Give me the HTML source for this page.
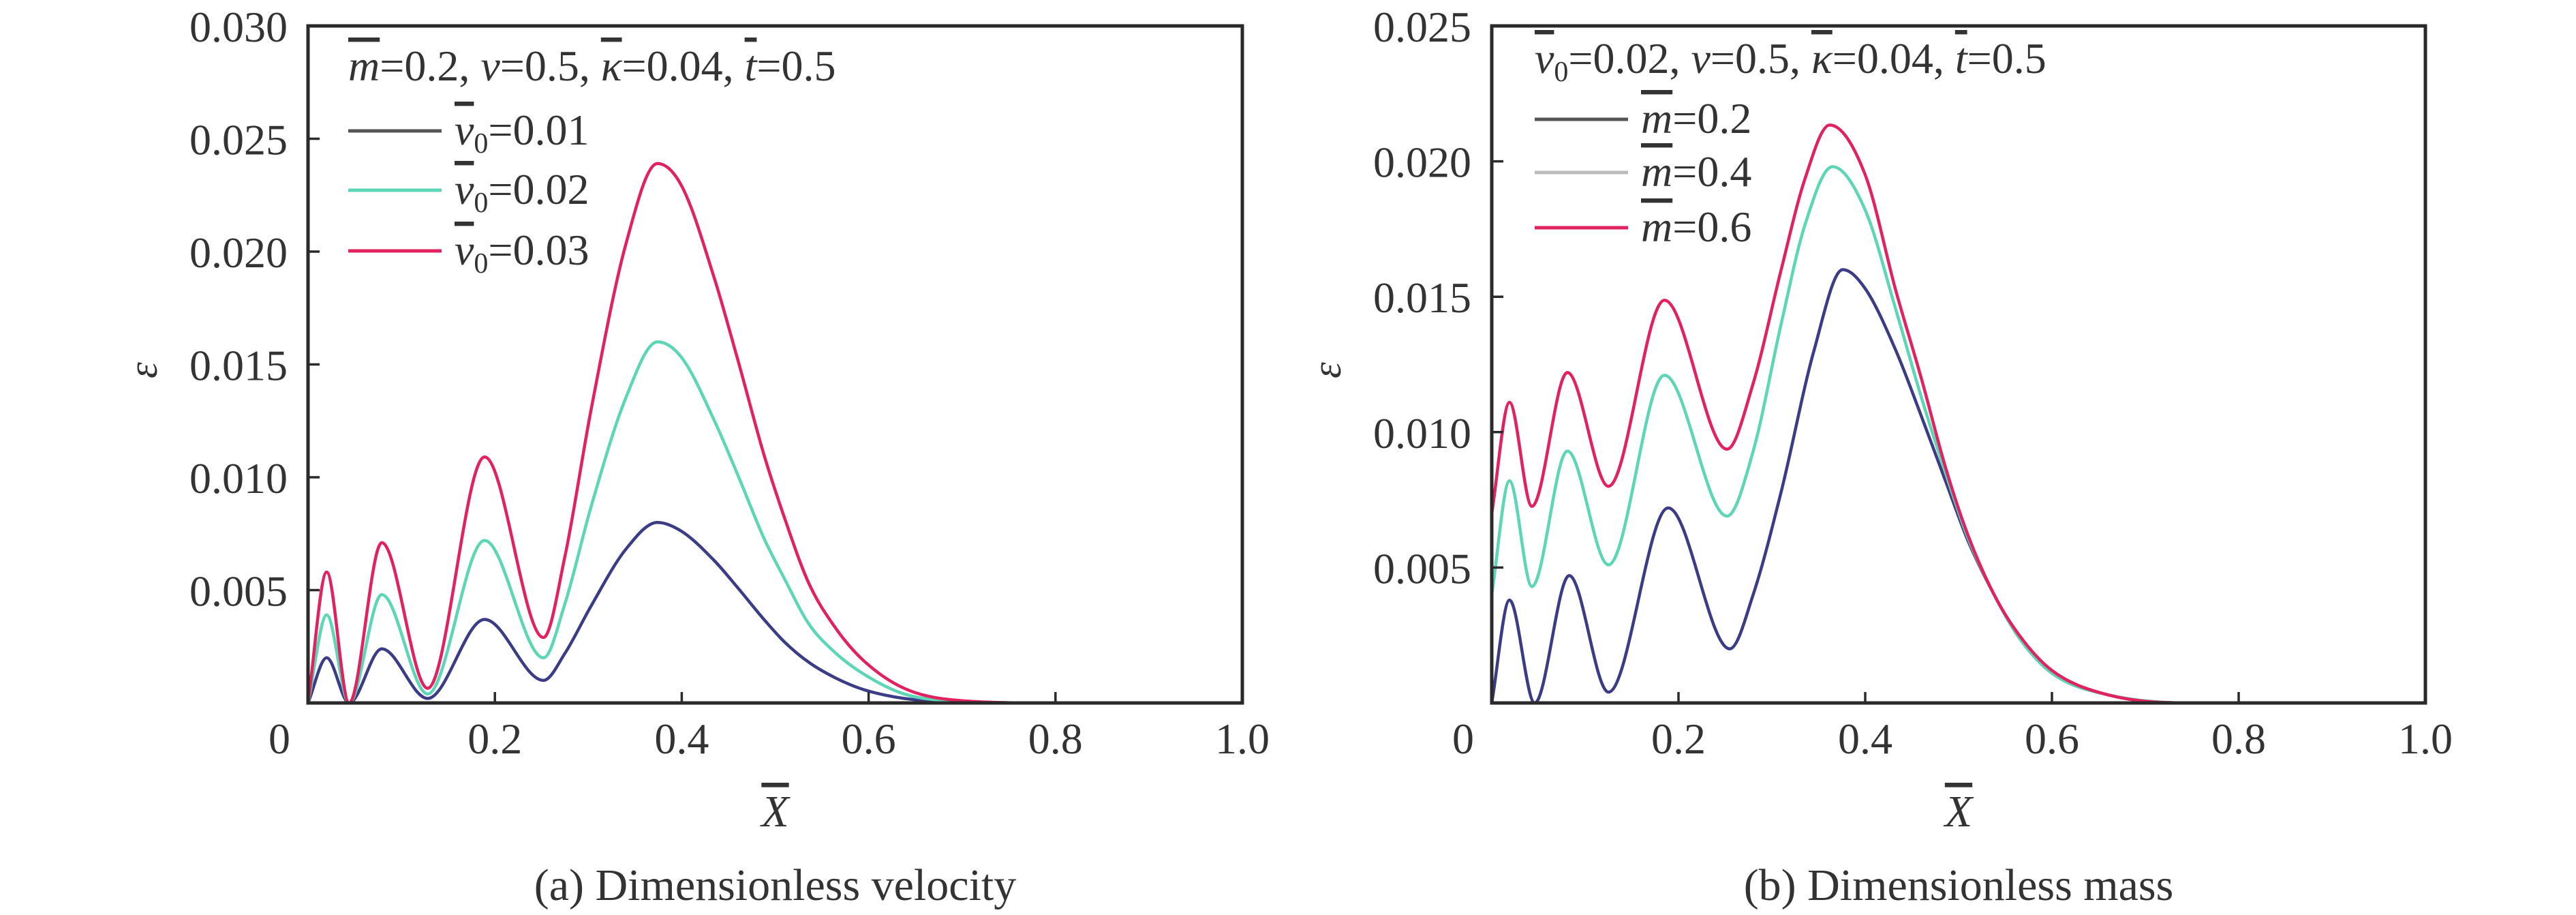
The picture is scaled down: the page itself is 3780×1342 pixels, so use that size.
<!DOCTYPE html>
<html><head><meta charset="utf-8"><style>
html,body{margin:0;padding:0;background:#fff;}
svg{display:block;font-family:"Liberation Serif",serif;}
</style></head><body>
<svg id="chart" width="3780" height="1342" viewBox="0 0 3780 1342" xmlns="http://www.w3.org/2000/svg">
<rect width="3780" height="1342" fill="#ffffff"/>
</svg>
<script>
// ---- data ----
const xTicks = [0, 0.2, 0.4, 0.6, 0.8, 1.0];
const xTickLabels = ["0", "0.2", "0.4", "0.6", "0.8", "1.0"];
const yTicksA = [0.005, 0.010, 0.015, 0.020, 0.025, 0.030];
const yTickLabelsA = ["0.005", "0.010", "0.015", "0.020", "0.025", "0.030"];
const yTicksB = [0.005, 0.010, 0.015, 0.020, 0.025];
const yTickLabelsB = ["0.005", "0.010", "0.015", "0.020", "0.025"];

const xA = [0, 0.020, 0.044, 0.079, 0.128, 0.189, 0.252, 0.275, 0.303, 0.34, 0.374, 0.40, 0.435, 0.46, 0.488, 0.51, 0.536, 0.565, 0.594, 0.638, 0.70, 0.80, 1.0];
const a_v003 = [0, 0.0058, 0, 0.0071, 0.00065, 0.0109, 0.0029, 0.0065, 0.0130, 0.0203, 0.0239, 0.0229, 0.0188, 0.0152, 0.0110, 0.0082, 0.0053, 0.0033, 0.0019, 0.00065, 0.0001, 0, 0];
const a_v002 = [0, 0.0039, 0, 0.0048, 0.0004, 0.0072, 0.0020, 0.0044, 0.0087, 0.0135, 0.0160, 0.0153, 0.0125, 0.0101, 0.0073, 0.0055, 0.0035, 0.0022, 0.0013, 0.0004, 0.00007, 0, 0];
const a_v001 = [0, 0.0020, 0, 0.0024, 0.0002, 0.0037, 0.0010, 0.0022, 0.0043, 0.0068, 0.0080, 0.0076, 0.0063, 0.0051, 0.0037, 0.0027, 0.0018, 0.0011, 0.0006, 0.0002, 0.00003, 0, 0];

const xB_red = [0, 0.019, 0.043, 0.081, 0.125, 0.185, 0.252, 0.28, 0.31, 0.335, 0.362, 0.40, 0.433, 0.46, 0.486, 0.51, 0.538, 0.565, 0.60, 0.66, 0.75, 1.0];
const b_m06 = [0.0070, 0.0111, 0.00726, 0.0122, 0.0080, 0.01487, 0.00937, 0.0118, 0.0160, 0.0193, 0.02134, 0.0195, 0.0152, 0.0120, 0.0087, 0.0062, 0.0040, 0.0025, 0.0012, 0.0003, 0, 0];
const xB_teal = [0, 0.019, 0.043, 0.081, 0.125, 0.185, 0.252, 0.28, 0.31, 0.335, 0.365, 0.40, 0.433, 0.46, 0.486, 0.51, 0.538, 0.565, 0.60, 0.66, 0.75, 1.0];
const b_m04 = [0.0040, 0.0082, 0.0043, 0.0093, 0.0051, 0.0121, 0.0069, 0.0093, 0.0140, 0.0176, 0.0198, 0.0182, 0.0145, 0.0113, 0.0085, 0.0061, 0.0040, 0.0024, 0.0011, 0.0003, 0, 0];
const xB_navy = [0, 0.019, 0.046, 0.083, 0.125, 0.189, 0.255, 0.28, 0.31, 0.345, 0.376, 0.40, 0.433, 0.46, 0.486, 0.51, 0.538, 0.565, 0.60, 0.66, 0.75, 1.0];
const b_m02 = [0, 0.0038, 0, 0.0047, 0.0004, 0.0072, 0.0020, 0.0040, 0.0078, 0.0130, 0.0160, 0.0153, 0.0130, 0.0106, 0.0082, 0.0060, 0.0040, 0.0024, 0.0011, 0.0003, 0, 0];

const NAVY = "#3c3c86", TEAL = "#5cd6b6", RED = "#e2215f";
const NS = "http://www.w3.org/2000/svg";
const svg = document.getElementById("chart");

function mk(tag, attrs, parent) {
  const e = document.createElementNS(NS, tag);
  for (const k in attrs) e.setAttribute(k, attrs[k]);
  (parent || svg).appendChild(e);
  return e;
}

function monotonePath(xs, ys, sx, sy) {
  const n = xs.length, d = [], m = [];
  for (let i = 0; i < n - 1; i++) d.push((ys[i+1]-ys[i])/(xs[i+1]-xs[i]));
  for (let i = 0; i < n; i++) {
    if (i === 0) m.push(d[0]); else if (i === n-1) m.push(d[n-2]);
    else m.push(d[i-1]*d[i] <= 0 ? 0 : (d[i-1]+d[i])/2);
  }
  for (let i = 0; i < n-1; i++) {
    if (d[i] === 0) { m[i] = 0; m[i+1] = 0; continue; }
    const a = m[i]/d[i], b = m[i+1]/d[i], s = a*a+b*b;
    if (s > 9) { const t = 3/Math.sqrt(s); m[i] = t*a*d[i]; m[i+1] = t*b*d[i]; }
  }
  let p = "M" + sx(xs[0]).toFixed(1) + "," + sy(ys[0]).toFixed(1);
  for (let i = 0; i < n-1; i++) {
    const h = xs[i+1]-xs[i];
    const x1 = xs[i]+h/3, y1 = ys[i]+m[i]*h/3, x2 = xs[i+1]-h/3, y2 = ys[i+1]-m[i+1]*h/3;
    p += " C" + sx(x1).toFixed(1) + "," + sy(Math.max(0,y1)).toFixed(1) + " " + sx(x2).toFixed(1) + "," + sy(Math.max(0,y2)).toFixed(1) + " " + sx(xs[i+1]).toFixed(1) + "," + sy(ys[i+1]).toFixed(1);
  }
  return p;
}

function panel(cfg) {
  const g = mk("g", {});
  
  
  const L = cfg.left, R = cfg.right, T = 38, B = 1031;
  const sx = v => L + v * (R - L);
  const sy = v => B - v / cfg.ymax * (B - T);
  cfg.series.forEach(s => {
    const p = mk("path", {d: monotonePath(s.x, s.y, sx, sy), fill: "none", stroke: s.color, "stroke-width": 4.5}, g);
    
    
  });
  const fr = mk("rect", {x: L, y: T, width: R - L, height: B - T, fill: "none", stroke: "#2a2a2a", "stroke-width": 5}, g);
  
  
  xTicks.forEach((t, i) => {
    mk("line", {x1: sx(t), x2: sx(t), y1: B, y2: B - 16, stroke: "#2a2a2a", "stroke-width": 3.5}, g);
    const tx = mk("text", {x: i === 0 ? L - 42 : sx(t), y: 1105, "font-size": 64, "text-anchor": "middle", fill: "#333"}, g);
    tx.textContent = xTickLabels[i];
    
    
  });
  cfg.yTicks.forEach((t, i) => {
    mk("line", {x1: L, x2: L + 17, y1: sy(t), y2: sy(t), stroke: "#2a2a2a", "stroke-width": 3.5}, g);
    const tx = mk("text", {x: L - 30, y: sy(t) + 23, "font-size": 64, "text-anchor": "end", fill: "#333"}, g);
    tx.textContent = cfg.yLabels[i];
    
    
  });
  const yt = mk("text", {x: 0, y: 0, "font-size": 60, "font-style": "italic", "text-anchor": "middle", fill: "#333", transform: "translate(" + (cfg.left - 222) + ",543) rotate(-90)"}, g);
  yt.textContent = "ε";
  
  
  const xt = mk("text", {x: (L + R) / 2, y: 1212, "font-size": 66, "font-style": "italic", "text-anchor": "middle", "text-decoration": "overline", fill: "#333"}, g);
  xt.textContent = "X";
  
  
  const cap = mk("text", {x: (L + R) / 2, y: 1320, "font-size": 66, "text-anchor": "middle", fill: "#333"}, g);
  cap.textContent = cfg.caption;
  
  
  const tt = mk("text", {x: cfg.lx, y: cfg.ty, "font-size": 64, fill: "#333"}, g);
  
  
  tt.innerHTML = cfg.titleHTML;
  cfg.series.forEach((s, i) => {
    const y = cfg.ly[i];
    mk("line", {x1: cfg.lx, x2: cfg.lx + 137, y1: y, y2: y, stroke: s.legendColor || s.color, "stroke-width": 5}, g);
    const lt = mk("text", {x: cfg.lx + 156, y: y + 20, "font-size": 64, fill: "#333"}, g);
    lt.innerHTML = s.label;
    
    
  });
}

const V0 = '<tspan font-style="italic" text-decoration="overline">v</tspan><tspan font-size="42" dy="12">0</tspan><tspan dy="-12">';
const MB = '<tspan font-style="italic" text-decoration="overline">m</tspan><tspan>';
panel({
  name: "panel-a-velocity", left: 452, right: 1823, ymax: 0.030,
  yTicks: yTicksA, yLabels: yTickLabelsA, caption: "(a) Dimensionless velocity",
  lx: 511, ty: 118, ly: [192, 279, 368],
  titleHTML: MB + '=0.2, </tspan><tspan font-style="italic">ν</tspan>=0.5, <tspan font-style="italic" text-decoration="overline">κ</tspan>=0.04, <tspan font-style="italic" text-decoration="overline">t</tspan>=0.5',
  series: [
    {name: "line-v0-0.01", x: xA, y: a_v001, color: NAVY, legendColor: "#555555", label: V0 + '=0.01</tspan>'},
    {name: "line-v0-0.02", x: xA, y: a_v002, color: TEAL, label: V0 + '=0.02</tspan>'},
    {name: "line-v0-0.03", x: xA, y: a_v003, color: RED, label: V0 + '=0.03</tspan>'}
  ]
});
panel({
  name: "panel-b-mass", left: 2189, right: 3559, ymax: 0.025,
  yTicks: yTicksB, yLabels: yTickLabelsB, caption: "(b) Dimensionless mass",
  lx: 2252, ty: 107, ly: [175, 253, 334],
  titleHTML: V0 + '=0.02, </tspan><tspan font-style="italic">ν</tspan>=0.5, <tspan font-style="italic" text-decoration="overline">κ</tspan>=0.04, <tspan font-style="italic" text-decoration="overline">t</tspan>=0.5',
  series: [
    {name: "line-m-0.2", x: xB_navy, y: b_m02, color: NAVY, legendColor: "#555555", label: MB + '=0.2</tspan>'},
    {name: "line-m-0.4", x: xB_teal, y: b_m04, color: TEAL, legendColor: "#bbbbbb", label: MB + '=0.4</tspan>'},
    {name: "line-m-0.6", x: xB_red, y: b_m06, color: RED, label: MB + '=0.6</tspan>'}
  ]
});
</script>
</body></html>
